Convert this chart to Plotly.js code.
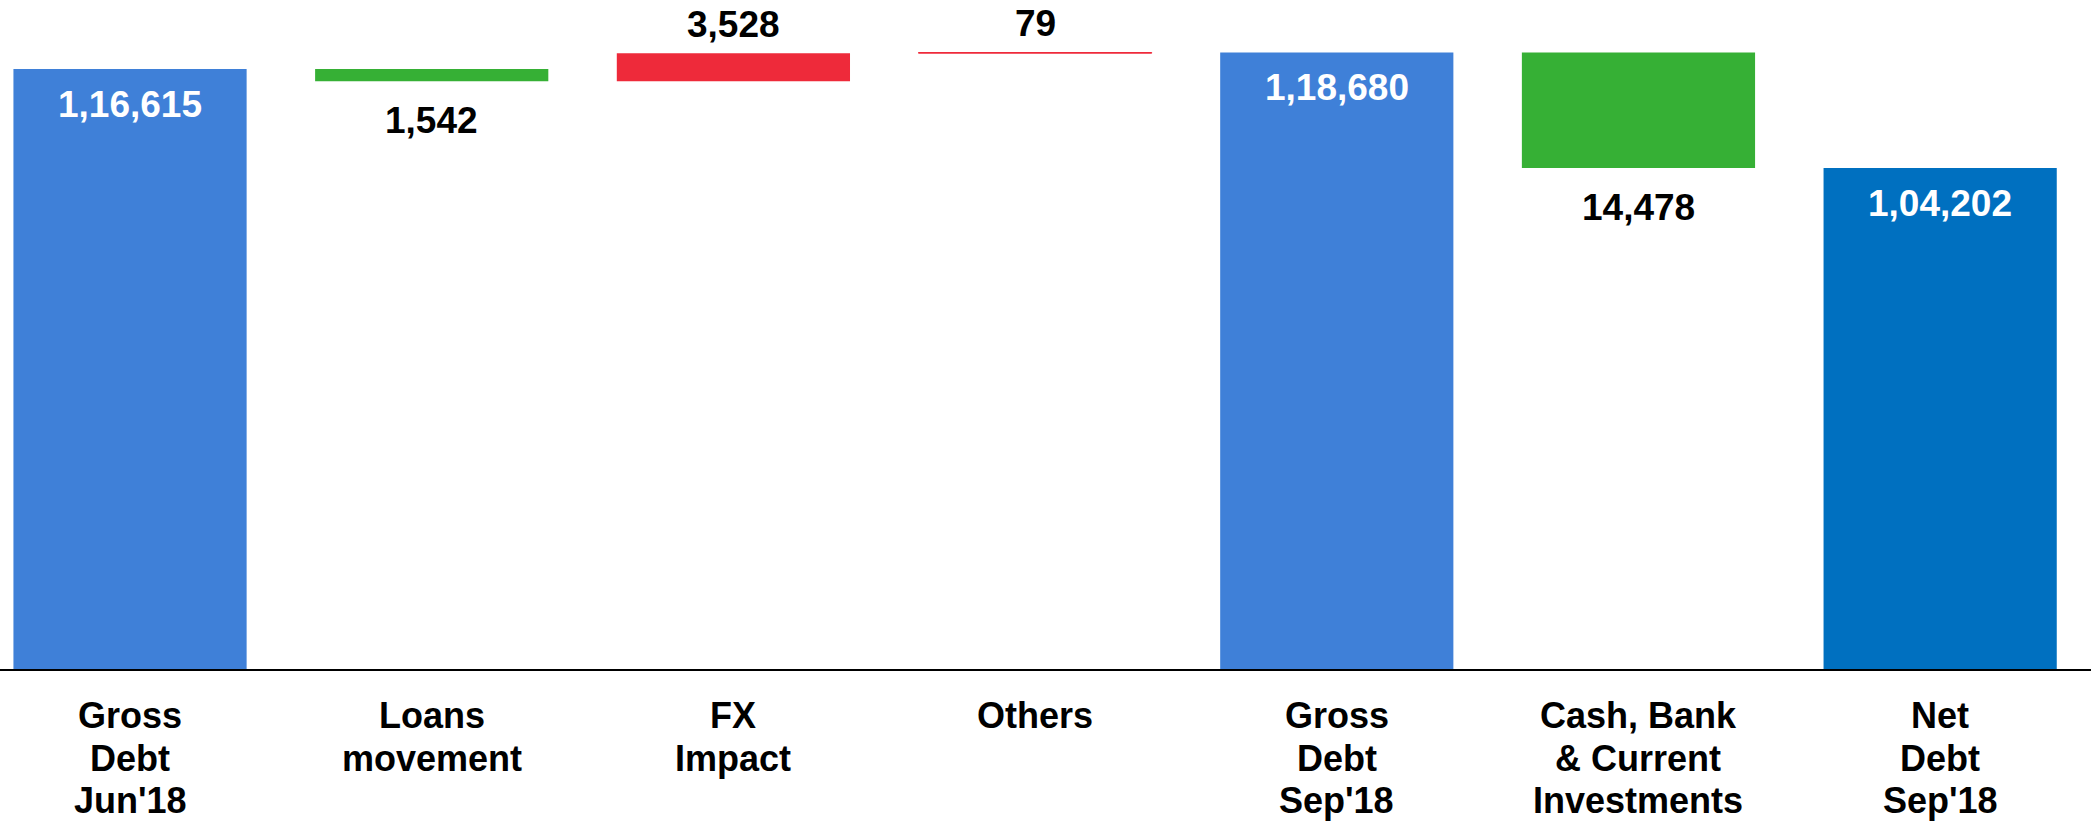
<!DOCTYPE html>
<html>
<head>
<meta charset="utf-8">
<script src="https://cdn.plot.ly/plotly-3.0.1.min.js"></script>
<style>
html,body{margin:0;padding:0;background:#fff;}
#chart{width:2091px;height:824px;}
</style>
</head>
<body>
<div id="chart"></div>
<script>
// ---- data ----
var categories = ["Gross<br>Debt<br>Jun'18", "Loans<br>movement", "FX<br>Impact", "Others",
                  "Gross<br>Debt<br>Sep'18", "Cash, Bank<br>& Current<br>Investments", "Net<br>Debt<br>Sep'18"];
var measures = ["absolute", "relative", "relative", "relative", "total", "relative", "total"];
var values = [116615, -1542, 3528, 79, 118680, -14478, 104202];
var valueLabels = ["1,16,615", "1,542", "3,528", "79", "1,18,680", "14,478", "1,04,202"];
var barColors = ["#3F80D8", "#36B035", "#EE2A3A", "#EE2A3A", "#3F80D8", "#36B035", "#0070C0"];

(function () {
  // ---- compute bases for a waterfall drawn with bars ----
  var xs = [], bases = [], heights = [], running = 0;
  for (var i = 0; i < values.length; i++) {
    xs.push(i);
    if (measures[i] === "absolute" || measures[i] === "total") {
      running = values[i];
      bases.push(0); heights.push(values[i]);
    } else {
      bases.push(running); heights.push(values[i]);
      running += values[i];
    }
  }
  var lineWidths = [];
  for (var q = 0; q < values.length; q++) { lineWidths.push(Math.abs(values[q]) < 500 ? 1 : 0); }

  var trace = {
    type: "bar",
    x: xs,
    y: heights,
    base: bases,
    width: 0.773,
    marker: {color: barColors.slice(), line: {width: lineWidths, color: barColors.slice()}},
    hoverinfo: "none"
  };

  var annotations = [];
  var fontFam = "Liberation Sans, Arial, sans-serif";
  for (var j = 0; j < values.length; j++) {
    var hiV = bases[j] + Math.max(heights[j], 0);
    var loV = bases[j] + Math.min(heights[j], 0);
    var col = "#000000", yv = hiV, ys = 29;
    if (measures[j] !== "relative") { yv = hiV; ys = -35; col = "#ffffff"; }
    else if (values[j] < 0) { yv = loV; ys = -39; }
    annotations.push({x: xs[j], xref: "x", y: yv, yref: "y", showarrow: false,
      text: "<b>" + valueLabels[j] + "</b>", font: {family: fontFam, size: 37, color: col},
      yanchor: "middle", xanchor: "center", yshift: ys});
  }
  // category labels, line by line
  var lineShift = [-46, -89, -131];
  for (var k = 0; k < categories.length; k++) {
    var lines = categories[k].split("<br>");
    for (var l = 0; l < lines.length; l++) {
      annotations.push({x: xs[k], xref: "x", y: 0, yref: "paper", showarrow: false,
        text: "<b>" + lines[l] + "</b>", font: {family: fontFam, size: 36, color: "#000000"},
        yanchor: "middle", xanchor: "center", yshift: lineShift[l]});
    }
  }

  var layout = {
    width: 2091, height: 824,
    margin: {l: 0, r: 0, t: 0, b: 155, pad: 0},
    paper_bgcolor: "#ffffff", plot_bgcolor: "#ffffff",
    showlegend: false,
    xaxis: {range: [-0.431, 6.5], showline: true, linecolor: "#000000", linewidth: 2,
            showgrid: false, zeroline: false, showticklabels: false, ticks: ""},
    yaxis: {range: [41389, 125266], showline: false, showgrid: false, zeroline: false,
            showticklabels: false, ticks: ""},
    annotations: annotations
  };

  Plotly.newPlot("chart", [trace], layout, {displayModeBar: false});
})();
</script>
</body>
</html>
